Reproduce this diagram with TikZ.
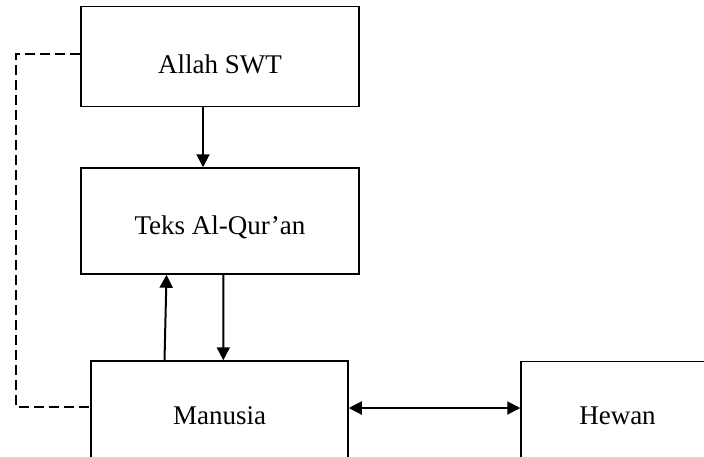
\documentclass[tikz,border=0pt]{standalone}
\usepackage{fontspec}
\setmainfont{Liberation Serif}
\usetikzlibrary{arrows.meta}

\begin{document}
\begin{tikzpicture}[x=0.5pt, y=-0.5pt,
    box/.style={rectangle, draw=black, line width=0.75pt, inner sep=0pt, font=\fontsize{13.5}{16}\selectfont},
    link/.style={-{Triangle[length=6.5pt, width=6.5pt]}, line width=1pt},
    twoway/.style={{Triangle[length=6.5pt, width=6.5pt]}-{Triangle[length=6.5pt, width=6.5pt]}, line width=1pt},
    dashlink/.style={dashed, dash pattern=on 5pt off 2.5pt, line width=0.9pt}]
    \useasboundingbox (0, 0) rectangle (704, 456);

    \node[box, minimum width=139pt, minimum height=50pt, text height=16.7pt, text depth=0pt] (allah) at (220, 56.5) {Allah SWT};
    \node[box, minimum width=139pt, minimum height=53pt, text height=16.2pt, text depth=3pt] (teks) at (220, 221) {Teks Al-Qur’an};
    \node[box, minimum width=128.5pt, minimum height=54.5pt] (manusia) at (219.5, 415.5) {Manusia};
    \node[box, minimum width=96.5pt, minimum height=54.5pt] (hewan) at (617.5, 416) {Hewan};
    \coordinate (corner) at (16, 54);

    \draw[link] ([xshift=-8.5pt]allah.south) to ([xshift=-8.5pt]teks.north);
    \draw[link] ([xshift=-27.5pt]manusia.north) to ([xshift=-26.75pt]teks.south);
    \draw[link] ([xshift=1.7pt]teks.south) to ([xshift=1.9pt]manusia.north);
    \draw[twoway] ([yshift=3.75pt]manusia.east) to ([yshift=4pt]hewan.west);
    \draw[dashlink] ([yshift=1.25pt]allah.west) -- (corner) |- ([yshift=4.25pt]manusia.west);
\end{tikzpicture}
\end{document}
